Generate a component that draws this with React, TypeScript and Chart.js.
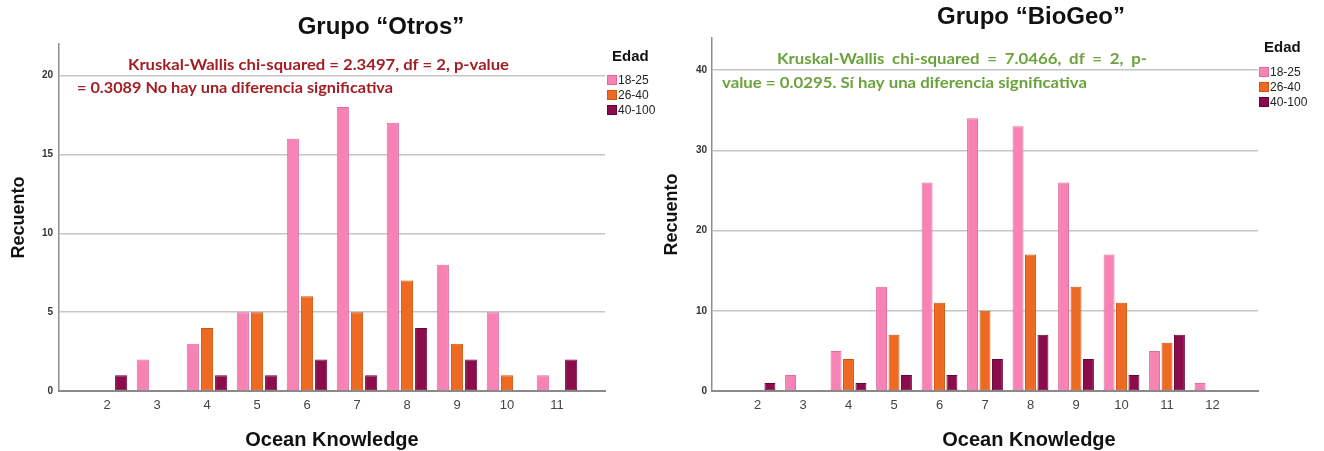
import { useEffect, useRef } from 'react';
import { Chart, registerables } from 'chart.js';

Chart.register(...registerables);

// Age groups (legend "Edad") and their bar colours
const ageGroups = ['18-25', '26-40', '40-100'];
const ageFill = ['#F683B4', '#EE6A22', '#8C0C4B'];
const ageEdge = ['#E06C9E', '#CF560F', '#65053A'];

// Grupo "Otros": Ocean Knowledge score and counts per age group
const otrosScores = [2, 3, 4, 5, 6, 7, 8, 9, 10, 11];
const otros18to25 = [0, 2, 3, 5, 16, 18, 17, 8, 5, 1];
const otros26to40 = [0, 0, 4, 5, 6, 5, 7, 3, 1, 0];
const otros40to100 = [1, 0, 1, 1, 2, 1, 4, 2, 0, 2];
const otrosYTicks = [0, 5, 10, 15, 20];

// Grupo "BioGeo": Ocean Knowledge score and counts per age group
const bioScores = [2, 3, 4, 5, 6, 7, 8, 9, 10, 11, 12];
const bio18to25 = [0, 2, 5, 13, 26, 34, 33, 26, 17, 5, 1];
const bio26to40 = [0, 0, 4, 7, 11, 10, 17, 13, 11, 6, 0];
const bio40to100 = [1, 0, 1, 2, 2, 4, 7, 4, 2, 7, 0];
const bioYTicks = [0, 10, 20, 30, 40];

const SANS = '"Liberation Sans", Arial, sans-serif';
const NOTE_FONT = 'bold 16px Lato, "Open Sans", sans-serif';

type NoteLine = { text: string; x: number; y: number; width: number; justify?: boolean };

type Panel = {
  title: string;
  titleX: number;
  titleY: number;
  scores: number[];
  series: number[][];
  yTicks: number[];
  yMax: number;
  xMin: number;
  xMax: number;
  axisLeft: number;
  padRight: number;
  padTop: number;
  yTickPad: number;
  xTitleX: number;
  yTitleX: number;
  noteColor: string;
  note: NoteLine[];
  legendX: number;
  legendTitleY: number;
  legendItemY: number[];
  categoryPercentage: number;
  barPercentage: number;
};

const W = 662;
const H = 451;
const BASELINE = 391;

const otrosPanel: Panel = {
  title: 'Grupo \u201cOtros\u201d',
  titleX: 381,
  titleY: 27,
  scores: otrosScores,
  series: [otros18to25, otros26to40, otros40to100],
  yTicks: otrosYTicks,
  yMax: 22,
  xMin: 1.04,
  xMax: 11.96,
  axisLeft: 59,
  padRight: 57,
  padTop: 44,
  yTickPad: 6,
  xTitleX: 332,
  yTitleX: 19,
  noteColor: '#A31E24',
  note: [
    { text: 'Kruskal-Wallis chi-squared = 2.3497, df = 2, p-value', x: 128, y: 65, width: 381 },
    { text: '= 0.3089 No hay una diferencia significativa', x: 77, y: 88, width: 316 },
  ],
  legendX: 607,
  legendTitleY: 57,
  legendItemY: [80, 95, 110],
  categoryPercentage: 0.85,
  barPercentage: 0.86,
};

const bioPanel: Panel = {
  title: 'Grupo \u201cBioGeo\u201d',
  titleX: 369,
  titleY: 17,
  scores: bioScores,
  series: [bio18to25, bio26to40, bio40to100],
  yTicks: bioYTicks,
  yMax: 44,
  xMin: 1,
  xMax: 13,
  axisLeft: 50,
  padRight: 66,
  padTop: 38,
  yTickPad: 5,
  xTitleX: 367,
  yTitleX: 10,
  noteColor: '#6CA23C',
  note: [
    { text: 'Kruskal-Wallis  chi-squared  =  7.0466,  df  =  2,  p-', x: 115, y: 59, width: 370, justify: true },
    { text: 'value = 0.0295. S\u00ed hay una diferencia significativa', x: 60, y: 83, width: 365 },
  ],
  legendX: 597,
  legendTitleY: 48,
  legendItemY: [72, 87, 102],
  categoryPercentage: 0.82,
  barPercentage: 0.88,
};

// Draws the panel title, axis titles, the test note and the "Edad" legend.
function panelText(p: Panel) {
  return {
    id: 'panelText',
    afterDraw(chart: Chart) {
      const ctx = chart.ctx;
      const area = chart.chartArea;
      ctx.save();
      ctx.textBaseline = 'middle';

      ctx.fillStyle = '#111';
      ctx.textAlign = 'center';
      ctx.font = `bold 24px ${SANS}`;
      ctx.fillText(p.title, p.titleX, p.titleY);

      ctx.font = `bold 20px ${SANS}`;
      ctx.fillText('Ocean Knowledge', p.xTitleX, 440);

      ctx.save();
      ctx.translate(p.yTitleX, (area.top + area.bottom) / 2);
      ctx.rotate(-Math.PI / 2);
      ctx.font = `bold 18px ${SANS}`;
      ctx.fillText('Recuento', 0, 0);
      ctx.restore();

      // note lines, condensed to their column width
      ctx.fillStyle = p.noteColor;
      ctx.font = NOTE_FONT;
      ctx.textAlign = 'left';
      const plain = p.note.find((l) => !l.justify) as NoteLine;
      const sx = plain.width / ctx.measureText(plain.text).width;
      for (const line of p.note) {
        if (line.justify) {
          const words = line.text.split(/\s+/);
          const widths = words.map((w) => ctx.measureText(w).width * sx);
          const total = widths.reduce((a, b) => a + b, 0);
          const gap = (line.width - total) / (words.length - 1);
          let x = line.x;
          words.forEach((w, i) => {
            ctx.save();
            ctx.translate(x, line.y);
            ctx.scale(sx, 1);
            ctx.fillText(w, 0, 0);
            ctx.restore();
            x += widths[i] + gap;
          });
        } else {
          const s = line.width / ctx.measureText(line.text).width;
          ctx.save();
          ctx.translate(line.x, line.y);
          ctx.scale(s, 1);
          ctx.fillText(line.text, 0, 0);
          ctx.restore();
        }
      }

      // legend
      ctx.fillStyle = '#111';
      ctx.font = `bold 15px ${SANS}`;
      ctx.fillText('Edad', p.legendX + 5, p.legendTitleY);
      ctx.font = `12px ${SANS}`;
      ageGroups.forEach((g, i) => {
        const y = p.legendItemY[i];
        ctx.fillStyle = ageFill[i];
        ctx.fillRect(p.legendX, y - 5, 10, 10);
        ctx.strokeStyle = ageEdge[i];
        ctx.lineWidth = 1;
        ctx.strokeRect(p.legendX + 0.5, y - 4.5, 9, 9);
        ctx.fillStyle = '#222';
        ctx.fillText(g, p.legendX + 11, y + 0.5);
      });
      ctx.restore();
    },
  };
}

function buildChart(canvas: HTMLCanvasElement, p: Panel) {
  return new Chart(canvas, {
    type: 'bar',
    data: {
      datasets: ageGroups.map((g, i) => ({
        label: g,
        data: p.scores.map((s, j) => ({ x: s, y: p.series[i][j] })),
        backgroundColor: ageFill[i],
        borderColor: ageEdge[i],
        borderWidth: 1,
        borderSkipped: false,
        categoryPercentage: p.categoryPercentage,
        barPercentage: p.barPercentage,
      })),
    },
    options: {
      responsive: false,
      animation: false,
      devicePixelRatio: 1,
      layout: { padding: { left: 0, top: p.padTop, right: p.padRight, bottom: 0 } },
      plugins: {
        legend: { display: false },
        title: { display: false },
        tooltip: { enabled: false },
      },
      scales: {
        x: {
          type: 'linear',
          min: p.xMin,
          max: p.xMax,
          offset: false,
          grid: { display: false, drawTicks: false, offset: false },
          border: { display: true, color: '#8a8a8a', width: 2 },
          afterFit: (scale: any) => {
            scale.height = H - BASELINE;
          },
          afterBuildTicks: (scale: any) => {
            scale.ticks = p.scores.map((v) => ({ value: v }));
          },
          ticks: {
            autoSkip: false,
            maxRotation: 0,
            padding: 7,
            color: '#444',
            font: { family: SANS, size: 13 },
            callback: (v: any) => String(v),
          },
        },
        y: {
          type: 'linear',
          min: 0,
          max: p.yMax,
          afterFit: (scale: any) => {
            scale.width = p.axisLeft;
          },
          afterBuildTicks: (scale: any) => {
            scale.ticks = p.yTicks.map((v) => ({ value: v }));
          },
          grid: { color: '#c6c6c6', lineWidth: 1.5, drawTicks: false },
          border: { display: true, color: '#8e8e8e', width: 1.5 },
          ticks: {
            padding: p.yTickPad,
            color: '#333',
            font: { family: SANS, size: 10, weight: 'bold' },
          },
        },
      },
    },
    plugins: [panelText(p)],
  } as any);
}

function BarPanel({ panel, left }: { panel: Panel; left: number }) {
  const ref = useRef<HTMLCanvasElement | null>(null);
  useEffect(() => {
    if (!ref.current) return;
    const chart = buildChart(ref.current, panel);
    return () => chart.destroy();
  }, [panel]);
  return (
    <canvas
      ref={ref}
      width={W}
      height={H}
      style={{ position: 'absolute', left, top: 0, width: W, height: H }}
    />
  );
}

export default function App() {
  return (
    <div
      style={{
        position: 'fixed',
        left: 0,
        top: 0,
        width: 1324,
        height: 451,
        background: '#ffffff',
        overflow: 'hidden',
      }}
    >
      <BarPanel panel={otrosPanel} left={0} />
      <BarPanel panel={bioPanel} left={662} />
    </div>
  );
}
